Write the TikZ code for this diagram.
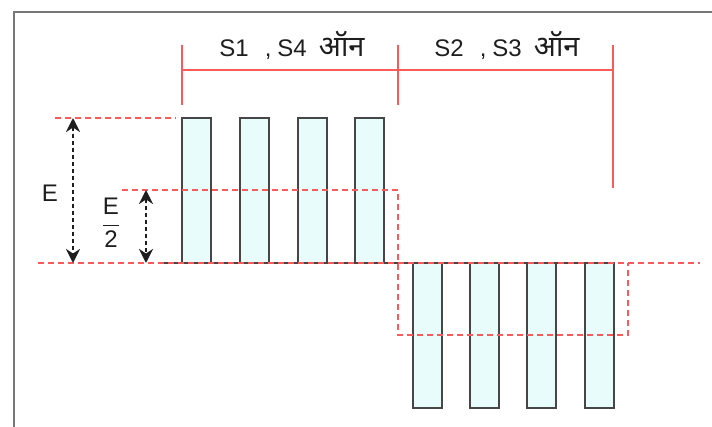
\documentclass[tikz,border=0pt]{standalone}
\usepackage{fontspec}
\setmainfont{Liberation Sans}
\newfontfamily\hindifont[Script=Devanagari]{Noto Sans}
\usepackage{tikz}
\usetikzlibrary{arrows.meta, positioning, calc}
\definecolor{framegray}{RGB}{120, 120, 120}
\definecolor{markred}{RGB}{250, 90, 90}
\definecolor{pulsefill}{RGB}{232, 252, 252}
\definecolor{pulsedraw}{RGB}{70, 70, 70}
\definecolor{darkgray}{RGB}{30, 30, 30}
\tikzset{
  pulse/.style={draw=pulsedraw, fill=pulsefill, line width=0.9pt},
  bracket/.style={draw=markred, line width=0.9pt},
  refline/.style={draw=markred, line width=0.8pt, dash pattern=on 3pt off 2pt},
  level/.style={{Stealth[length=7pt, width=7pt]}-{Stealth[length=7pt, width=7pt]},
              draw=darkgray, line width=1.2pt, dash pattern=on 2pt off 1.5pt},
  lbl/.style={font=\fontsize{12}{14}\selectfont, inner sep=0pt, text=darkgray},
}
\newcommand{\onlabel}[2]{#1\hspace{8pt},\hspace{3pt}#2\hspace{6pt}{\hindifont\fontsize{14.5}{16}\selectfont ऑन}}

\begin{document}
\begin{tikzpicture}[x=0.5pt, y=-0.5pt]
  \useasboundingbox (0,0) rectangle (712,427);
  \draw[framegray, line width=1pt] (14,427) -- (14,12) -- (712,12);

  % on-interval brackets
  \coordinate (t1) at (182,45);
  \coordinate (t2) at (398,45);
  \coordinate (t3) at (613,45);
  \draw[bracket] (t1) -- ++(0,60);
  \draw[bracket] (t2) -- ++(0,60);
  \draw[bracket] (t3) -- ++(0,143);
  \draw[bracket] ($(t1)+(0,25)$) -- ($(t3)+(0,25)$);
  \node[lbl, anchor=base] (onA) at (292,57) {\onlabel{S1}{S4}};
  \node[lbl, anchor=base] (onB) at (507,57) {\onlabel{S2}{S3}};

  % pulses
  \draw[pulsedraw, line width=0.9pt] (163,263) -- (614,263);
  \foreach \x in {182,240,298,355}
    \draw[pulse] (\x,118) rectangle ++(29,145);
  \foreach \x in {413,470,527,585}
    \draw[pulse] (\x,263) rectangle ++(29,145);

  % reference levels
  \draw[refline] (38,263) -- (700,263);
  \draw[refline] (55,118) -- (176,118);
  \draw[refline] (122,190) -- (398,190) -- (398,335) -- (628,335) -- (628,263);

  \coordinate (Etop) at (73,118);
  \coordinate (Ebot) at (73,263);
  \coordinate (Htop) at (146,190);
  \coordinate (Hbot) at (146,263);
  \draw[level] (Etop) -- (Ebot);
  \draw[level] (Htop) -- (Hbot);
  \node[lbl, anchor=base] (Elbl) at (50,202) {E};
  \node[lbl] (Hlbl) at (111,223) {$\displaystyle\frac{\mbox{E}}{\mbox{2}}$};
\end{tikzpicture}
\end{document}
